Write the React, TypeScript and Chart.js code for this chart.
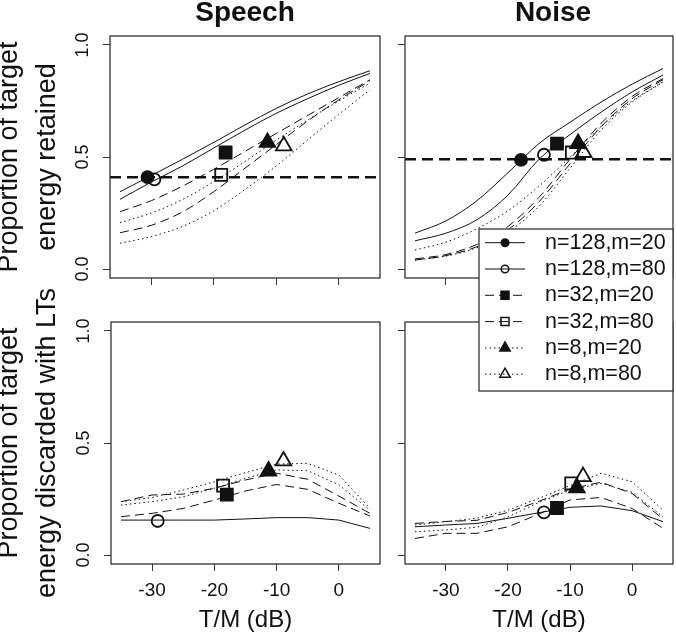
import { useEffect, useRef } from "react"
import { Chart, registerables } from "chart.js"

Chart.register(...registerables)

const INK = "#111111"
const FRAME = "#333333"
Chart.defaults.font.family = "'Liberation Sans', Arial, Helvetica, sans-serif"

// T/M values (dB) where the curves were evaluated
const tmSteps = [-35, -30, -25, -20, -15, -10, -5, 0, 5]
const xTickValues = [-30, -20, -10, 0]
const yTickValues = [0, 0.5, 1]
const xRange = [-36.6, 6.6]
const yRange = [-0.04, 1.04]

const seriesLabels = ["n=128,m=20", "n=128,m=80", "n=32,m=20", "n=32,m=80", "n=8,m=20", "n=8,m=80"]

// proportion of target energy retained - speech masker
const retSpeech128m20 = [0.345, 0.417, 0.49, 0.565, 0.643, 0.717, 0.781, 0.836, 0.885]
const retSpeech128m80 = [0.311, 0.388, 0.46, 0.54, 0.62, 0.695, 0.76, 0.82, 0.873]
const retSpeech32m20 = [0.256, 0.305, 0.37, 0.445, 0.525, 0.605, 0.685, 0.765, 0.845]
const retSpeech32m80 = [0.162, 0.195, 0.255, 0.345, 0.45, 0.555, 0.66, 0.755, 0.84]
const retSpeech8m20 = [0.207, 0.25, 0.31, 0.39, 0.48, 0.575, 0.665, 0.75, 0.83]
const retSpeech8m80 = [0.115, 0.145, 0.19, 0.26, 0.355, 0.46, 0.575, 0.69, 0.8]

// retained - noise masker
const retNoise128m20 = [0.16, 0.215, 0.305, 0.43, 0.56, 0.655, 0.745, 0.825, 0.895]
const retNoise128m80 = [0.126, 0.16, 0.22, 0.33, 0.49, 0.6, 0.7, 0.79, 0.866]
const retNoise32m20 = [0.045, 0.065, 0.11, 0.19, 0.32, 0.49, 0.65, 0.77, 0.85]
const retNoise32m80 = [0.04, 0.06, 0.1, 0.175, 0.3, 0.47, 0.635, 0.76, 0.845]
const retNoise8m20 = [0.085, 0.12, 0.18, 0.26, 0.37, 0.5, 0.635, 0.75, 0.836]
const retNoise8m80 = [0.04, 0.058, 0.095, 0.165, 0.28, 0.45, 0.62, 0.745, 0.835]

// discarded with LTs - speech (no n=128,m=20 curve drawn)
const discSpeech128m80 = [0.156, 0.156, 0.156, 0.156, 0.161, 0.167, 0.167, 0.156, 0.119]
const discSpeech32m20 = [0.171, 0.186, 0.208, 0.245, 0.286, 0.315, 0.293, 0.231, 0.174]
const discSpeech32m80 = [0.238, 0.268, 0.272, 0.298, 0.335, 0.365, 0.338, 0.263, 0.186]
const discSpeech8m20 = [0.223, 0.238, 0.26, 0.298, 0.342, 0.38, 0.376, 0.313, 0.2]
const discSpeech8m80 = [0.238, 0.257, 0.29, 0.327, 0.368, 0.406, 0.409, 0.357, 0.208]

// discarded with LTs - noise
const discNoise128m80 = [0.126, 0.134, 0.141, 0.164, 0.189, 0.213, 0.219, 0.198, 0.149]
const discNoise32m20 = [0.074, 0.097, 0.097, 0.126, 0.183, 0.246, 0.257, 0.208, 0.119]
const discNoise32m80 = [0.141, 0.15, 0.155, 0.19, 0.24, 0.295, 0.325, 0.275, 0.16]
const discNoise8m20 = [0.104, 0.112, 0.124, 0.17, 0.235, 0.29, 0.32, 0.28, 0.17]
const discNoise8m80 = [0.134, 0.149, 0.164, 0.2, 0.253, 0.31, 0.365, 0.327, 0.2]

// single marked points (one per series)
const markSpeechRetX = [-30.6, -29.5, -18.1, -18.8, -11.4, -8.8]
const markSpeechRetY = [0.41, 0.4, 0.52, 0.42, 0.565, 0.55]
const markNoiseRetX = [-17.9, -14.2, -12.1, -9.7, -8.7, -7.8]
const markNoiseRetY = [0.487, 0.51, 0.56, 0.52, 0.56, 0.52]
const markSpeechDiscX = [null, -29.1, -18.0, -18.6, -11.3, -8.9]
const markSpeechDiscY = [null, 0.152, 0.27, 0.31, 0.375, 0.42]
const markNoiseDiscX = [null, -14.2, -12.1, -9.8, -8.9, -7.9]
const markNoiseDiscY = [null, 0.19, 0.21, 0.32, 0.3, 0.35]

const thresholdSpeech = 0.41
const thresholdNoise = 0.49

const lineDash = [[], [], [9, 5], [9, 5], [1.5, 3], [1.5, 3]]
const markerShape = ["circle", "circle", "rect", "rect", "triangle", "triangle"]
const markerFilled = [true, false, true, false, true, false]
const markerRadius: Record<string, number> = { circle: 6, rect: 8.5, triangle: 9 }
const legendRadius: Record<string, number> = { circle: 3.8, rect: 4, triangle: 6 }

type PanelSpec = {
  canvasWidth: number
  padding: { left: number; right: number; top: number; bottom: number }
  yWidth: number
  xHeight: number
  rightSpacer?: number
  title?: string
  titleFull?: boolean
  yTitle?: string[]
  xTitle?: string
  xLabels: boolean
  yLabels: boolean
  curves: (number[] | null)[]
  markX: (number | null)[]
  markY: (number | null)[]
  threshold: number | null
  smooth: boolean
  legend: boolean
}

function drawMarker(ctx: CanvasRenderingContext2D, shape: string, x: number, y: number, r: number, filled: boolean) {
  ctx.beginPath()
  if (shape === "circle") {
    ctx.arc(x, y, r, 0, Math.PI * 2)
  } else if (shape === "rect") {
    ctx.rect(x - r, y - r, 2 * r, 2 * r)
  } else {
    ctx.moveTo(x, y - r)
    ctx.lineTo(x + r * 0.866, y + r / 2)
    ctx.lineTo(x - r * 0.866, y + r / 2)
    ctx.closePath()
  }
  if (filled) {
    ctx.fillStyle = INK
    ctx.fill()
  }
  ctx.stroke()
}

const framePlugin = {
  id: "frame",
  afterDraw(chart: Chart) {
    const { ctx, chartArea: a } = chart
    ctx.save()
    ctx.strokeStyle = FRAME
    ctx.lineWidth = 1.3
    ctx.strokeRect(a.left, a.top, a.right - a.left, a.bottom - a.top)
    ctx.restore()
  },
}

const legendPlugin = {
  id: "seriesLegend",
  afterDraw(chart: Chart) {
    const { ctx, chartArea: a } = chart
    const w = 194
    const h = 162
    const left = a.right - w
    const top = a.top - 93
    ctx.save()
    ctx.fillStyle = "#ffffff"
    ctx.fillRect(left, top, w, h)
    ctx.strokeStyle = FRAME
    ctx.lineWidth = 1.3
    ctx.strokeRect(left, top, w, h)
    ctx.font = "21.5px 'Liberation Sans', Arial, sans-serif"
    ctx.textBaseline = "middle"
    ctx.textAlign = "left"
    seriesLabels.forEach((label, i) => {
      const y = top + 13.7 + i * 26.3
      ctx.strokeStyle = INK
      ctx.lineWidth = 1
      ctx.setLineDash(lineDash[i])
      ctx.beginPath()
      ctx.moveTo(left + 6, y)
      ctx.lineTo(left + 46, y)
      ctx.stroke()
      ctx.setLineDash([])
      ctx.lineWidth = 1.5
      const shape = markerShape[i]
      if (!markerFilled[i]) {
        ctx.fillStyle = "#ffffff"
      }
      drawMarker(ctx, shape, left + 26, y, legendRadius[shape], markerFilled[i])
      ctx.fillStyle = INK
      ctx.fillText(label, left + 66, y)
    })
    ctx.restore()
  },
}

function makeConfig(p: PanelSpec): any {
  const datasets: any[] = []
  p.markX.forEach((mx, i) => {
    const my = p.markY[i]
    if (mx === null || my === null) return
    const shape = markerShape[i]
    datasets.push({
      type: "scatter",
      order: 0,
      data: [{ x: mx, y: my }],
      showLine: false,
      pointStyle: shape,
      pointRadius: markerRadius[shape],
      pointBackgroundColor: markerFilled[i] ? INK : "rgba(0,0,0,0)",
      pointBorderColor: INK,
      pointBorderWidth: 1.8,
    })
  })
  if (p.threshold !== null) {
    datasets.push({
      type: "line",
      order: 1,
      data: [
        { x: xRange[0], y: p.threshold },
        { x: xRange[1], y: p.threshold },
      ],
      borderColor: INK,
      borderWidth: 2.5,
      borderDash: [11, 6],
      pointRadius: 0,
    })
  }
  p.curves.forEach((ys, i) => {
    if (!ys) return
    datasets.push({
      type: "line",
      order: 2,
      data: tmSteps.map((x, j) => ({ x, y: ys[j] })),
      borderColor: INK,
      borderWidth: 1,
      borderDash: lineDash[i],
      pointRadius: 0,
      cubicInterpolationMode: p.smooth ? "monotone" : "default",
      tension: 0,
    })
  })

  const tickGrid = {
    display: true,
    drawOnChartArea: false,
    drawTicks: true,
    tickLength: 7,
    color: FRAME,
    lineWidth: 1,
  }

  const scales: any = {
    x: {
      type: "linear",
      min: xRange[0],
      max: xRange[1],
      afterBuildTicks: (s: any) => {
        s.ticks = xTickValues.map((value) => ({ value }))
      },
      grid: tickGrid,
      border: { display: false },
      ticks: {
        display: p.xLabels,
        autoSkip: false,
        minRotation: 0,
        maxRotation: 0,
        padding: 8,
        color: INK,
        font: { size: 19 },
        callback: (v: any) => String(v),
      },
      title: {
        display: !!p.xTitle,
        text: p.xTitle,
        color: INK,
        font: { size: 24 },
        padding: { top: 0, bottom: 1 },
      },
      afterFit: (s: any) => {
        s.height = p.xHeight
      },
    },
    y: {
      type: "linear",
      min: yRange[0],
      max: yRange[1],
      afterBuildTicks: (s: any) => {
        s.ticks = yTickValues.map((value) => ({ value }))
      },
      grid: tickGrid,
      border: { display: false },
      ticks: {
        display: p.yLabels,
        autoSkip: false,
        minRotation: 90,
        maxRotation: 90,
        crossAlign: "center",
        padding: 7,
        color: INK,
        font: { size: 18 },
        callback: (v: any) => Number(v).toFixed(1),
      },
      title: {
        display: !!p.yTitle,
        text: p.yTitle,
        color: INK,
        font: { size: 27, lineHeight: 1.42 },
        padding: { top: -9.5, bottom: 0 },
      },
      afterFit: (s: any) => {
        s.width = p.yWidth
      },
    },
  }
  if (p.rightSpacer) {
    scales.yr = {
      type: "linear",
      position: "right",
      display: true,
      grid: { display: false },
      border: { display: false },
      ticks: { display: false },
      afterFit: (s: any) => {
        s.width = p.rightSpacer
      },
    }
  }

  return {
    type: "line",
    data: { datasets },
    options: {
      responsive: false,
      animation: false,
      events: [],
      layout: { padding: p.padding, autoPadding: false },
      scales,
      plugins: {
        legend: { display: false },
        tooltip: { enabled: false },
        title: {
          display: !!p.title,
          text: p.title,
          fullSize: !!p.titleFull,
          color: INK,
          font: { size: 28, weight: "bold" },
          padding: { top: -4, bottom: 6.4 },
        },
      },
    },
    plugins: p.legend ? [framePlugin, legendPlugin] : [framePlugin],
  }
}

const speechRetained: PanelSpec = {
  canvasWidth: 676,
  padding: { left: 0, right: 296, top: 0, bottom: 351 },
  yWidth: 110,
  xHeight: 7,
  title: "Speech",
  titleFull: false,
  yTitle: ["Proportion of target", "energy retained"],
  xLabels: false,
  yLabels: true,
  curves: [retSpeech128m20, retSpeech128m80, retSpeech32m20, retSpeech32m80, retSpeech8m20, retSpeech8m80],
  markX: markSpeechRetX,
  markY: markSpeechRetY,
  threshold: thresholdSpeech,
  smooth: true,
  legend: false,
}

const noiseRetained: PanelSpec = {
  canvasWidth: 760,
  padding: { left: 385, right: 39, top: 0, bottom: 351 },
  yWidth: 20,
  xHeight: 7,
  rightSpacer: 48,
  title: "Noise",
  titleFull: true,
  xLabels: false,
  yLabels: false,
  curves: [retNoise128m20, retNoise128m80, retNoise32m20, retNoise32m80, retNoise8m20, retNoise8m80],
  markX: markNoiseRetX,
  markY: markNoiseRetY,
  threshold: thresholdNoise,
  smooth: true,
  legend: false,
}

const speechDiscarded: PanelSpec = {
  canvasWidth: 676,
  padding: { left: 0, right: 296, top: 322, bottom: 0 },
  yWidth: 111,
  xHeight: 72,
  yTitle: ["Proportion of target", "energy discarded with LTs"],
  xTitle: "T/M (dB)",
  xLabels: true,
  yLabels: true,
  curves: [null, discSpeech128m80, discSpeech32m20, discSpeech32m80, discSpeech8m20, discSpeech8m80],
  markX: markSpeechDiscX,
  markY: markSpeechDiscY,
  threshold: null,
  smooth: false,
  legend: false,
}

const noiseDiscarded: PanelSpec = {
  canvasWidth: 676,
  padding: { left: 385, right: 3, top: 322, bottom: 0 },
  yWidth: 20,
  xHeight: 72,
  xTitle: "T/M (dB)",
  xLabels: true,
  yLabels: false,
  curves: [null, discNoise128m80, discNoise32m20, discNoise32m80, discNoise8m20, discNoise8m80],
  markX: markNoiseDiscX,
  markY: markNoiseDiscY,
  threshold: null,
  smooth: false,
  legend: true,
}

function Panel({ spec }: { spec: PanelSpec }) {
  const canvasRef = useRef<HTMLCanvasElement>(null)
  const chartRef = useRef<Chart | null>(null)

  useEffect(() => {
    if (!canvasRef.current) return
    if (chartRef.current) chartRef.current.destroy()
    chartRef.current = new Chart(canvasRef.current, makeConfig(spec))
    return () => {
      if (chartRef.current) {
        chartRef.current.destroy()
        chartRef.current = null
      }
    }
  }, [spec])

  return (
    <canvas
      ref={canvasRef}
      width={spec.canvasWidth}
      height={636}
      style={{ position: "absolute", left: 0, top: 0 }}
    />
  )
}

export default function App() {
  return (
    <div
      style={{
        position: "absolute",
        left: 0,
        top: 0,
        width: 676,
        height: 636,
        overflow: "hidden",
        background: "#ffffff",
      }}
    >
      <Panel spec={speechRetained} />
      <Panel spec={noiseRetained} />
      <Panel spec={speechDiscarded} />
      <Panel spec={noiseDiscarded} />
    </div>
  )
}
